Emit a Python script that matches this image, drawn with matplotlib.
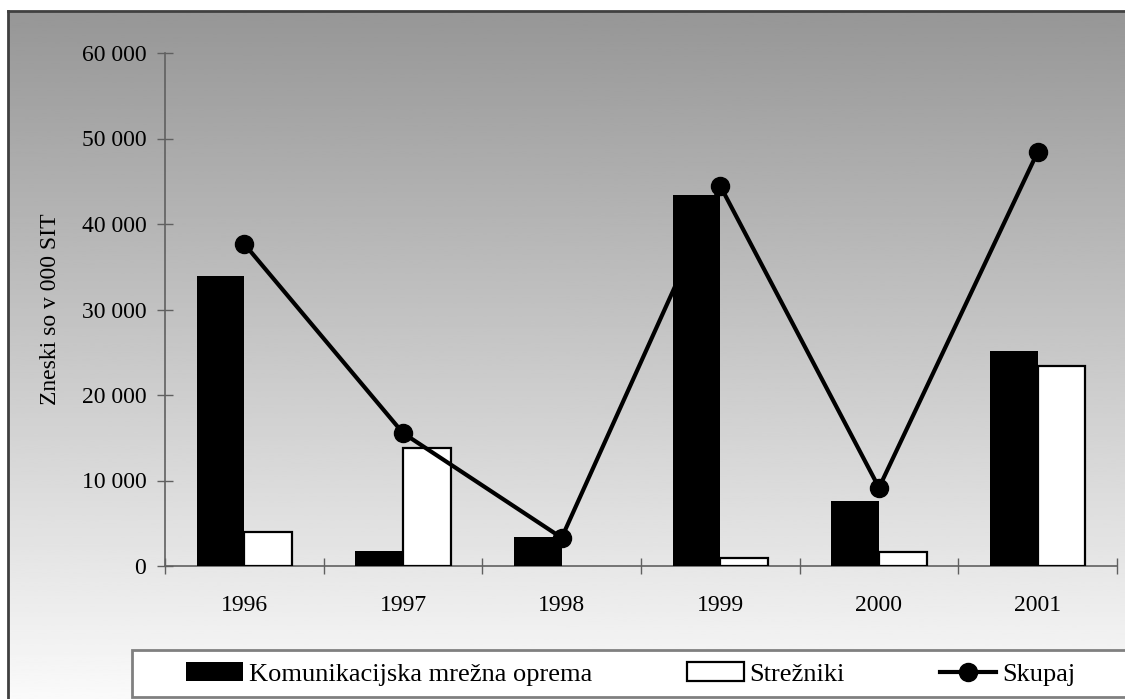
import numpy as np
import matplotlib.pyplot as plt
from matplotlib.patches import Rectangle
from matplotlib.ticker import FuncFormatter

# Podatki
leta = ['1996', '1997', '1998', '1999', '2000', '2001']
mrezna_oprema = [33900, 1750, 3400, 43400, 7600, 25150]
strezniki = [4000, 13850, 0, 970, 1670, 23400]
skupaj = [37660, 15550, 3300, 44440, 9160, 48420]

plt.rcParams['font.family'] = ['Liberation Serif', 'DejaVu Serif']
fs = 17
fs_leg = 19

W, H = 1125, 699
fig = plt.figure(figsize=(W / 100, H / 100), dpi=100)
fig.patch.set_facecolor('white')

# Ozadje z gradientom (od sive zgoraj do skoraj bele spodaj)
bg = fig.add_axes([8 / W, 0, 1 - 8 / W, 1 - 11 / H], zorder=0)
grad = np.linspace(0.59, 0.98, 256).reshape(-1, 1)
bg.imshow(grad, aspect='auto', cmap='gray', vmin=0, vmax=1, extent=[0, 1, 0, 1], origin='upper')
bg.set_axis_off()

# Okvir (levo in zgoraj)
fig.add_artist(plt.Line2D([8 / W, 8 / W], [0, 1 - 11 / H], color='#404040', lw=2, transform=fig.transFigure))
fig.add_artist(plt.Line2D([8 / W, 1], [1 - 11 / H, 1 - 11 / H], color='#404040', lw=2, transform=fig.transFigure))

# Glavni graf
ax = fig.add_axes([165 / W, 1 - 566 / H, (1117 - 165) / W, (566 - 53) / H], zorder=2)
ax.patch.set_alpha(0)

x = np.arange(len(leta))
w = 0.3
b1 = ax.bar(x - w / 2, mrezna_oprema, width=w, color='black', edgecolor='black', lw=0, zorder=3)
b2 = ax.bar(x + w / 2, strezniki, width=w, color='white', edgecolor='black', lw=1.6, zorder=3)
for r, v in zip(b2, strezniki):
    if v == 0:
        r.set_linewidth(0)
ln, = ax.plot(x, skupaj, color='black', lw=3, marker='o', markersize=13, zorder=4)

ax.set_xlim(-0.5, len(leta) - 0.5)
ax.set_ylim(0, 60000)
ax.set_yticks(np.arange(0, 60001, 10000))
ax.yaxis.set_major_formatter(FuncFormatter(lambda v, p: f'{int(v):,}'.replace(',', ' ')))

ax.set_xticks(np.arange(-0.5, len(leta), 1.0))
ax.set_xticklabels([])
ax.set_xticks(x, minor=True)
ax.set_xticklabels(leta, minor=True)
ax.tick_params(axis='x', which='minor', length=0, pad=21, labelsize=fs)
ax.tick_params(axis='x', which='major', direction='inout', length=11, width=1, color='#606060')
ax.tick_params(axis='y', direction='inout', length=11, width=1, color='#606060', pad=8, labelsize=fs)

for s in ['top', 'right']:
    ax.spines[s].set_visible(False)
for s in ['left', 'bottom']:
    ax.spines[s].set_color('#606060')
    ax.spines[s].set_linewidth(1.2)

ax.set_ylabel('Zneski so v 000 SIT', fontsize=fs)
ax.yaxis.set_label_coords(-0.109, 0.5)

# Legenda
fig.add_artist(Rectangle((132 / W, 1 - 697 / H), 1.0, 47 / H, transform=fig.transFigure,
                         facecolor='white', edgecolor='#808080', lw=2, zorder=5))
leg = fig.legend([b1, b2, ln], ['Komunikacijska mrežna oprema', 'Strežniki', 'Skupaj'],
                 loc='center left', bbox_to_anchor=(186 / W, 1 - 674 / H), ncol=3,
                 frameon=False, fontsize=fs_leg, borderpad=0, borderaxespad=0,
                 handlelength=2.15, handleheight=0.7, handletextpad=0.22, columnspacing=3.6)
leg.set_zorder(6)

plt.savefig('out.png', dpi=100)
